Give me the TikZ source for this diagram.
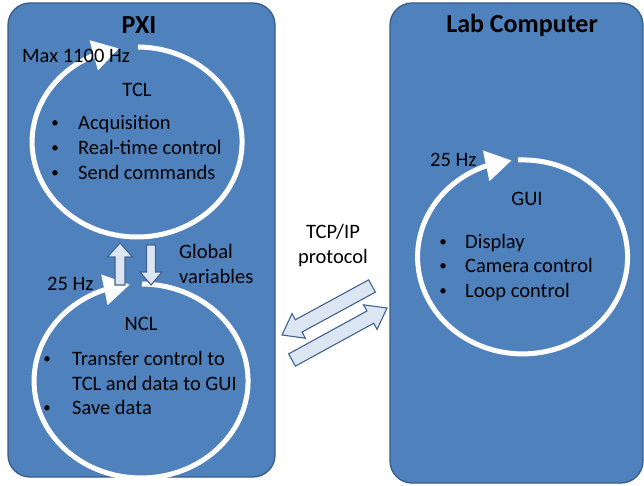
\documentclass[tikz,border=0pt]{standalone}
\usepackage{fontspec}
\setmainfont{Carlito}
\usetikzlibrary{arrows.meta,calc,bending}
\definecolor{boxblue}{HTML}{4F81BD}
\definecolor{boxedge}{HTML}{385D8A}
\definecolor{arrfill}{HTML}{DCE6F2}
\definecolor{arredge}{HTML}{41638F}
\newcommand\blockarr[6]{%
  \coordinate (#1t) at #2; \coordinate (#1p) at #3;
  \coordinate (#1h) at ($(#1p)!#6!(#1t)$);
  \draw[hollow] ($(#1t)!#4!90:(#1p)$) -- ($(#1h)!#4!90:(#1p)$) -- ($(#1h)!#5!90:(#1p)$) -- (#1p)
    -- ($(#1h)!#5!-90:(#1p)$) -- ($(#1h)!#4!-90:(#1p)$) -- ($(#1t)!#4!-90:(#1p)$) -- cycle;}
\begin{document}
\begin{tikzpicture}[x=1pt,y=-1pt,
  panel/.style={fill=boxblue,draw=boxedge,line width=1.3pt,rounded corners=22pt},
  ring/.style={draw=white,line width=5pt,-{Triangle[length=26pt,width=30pt,flex]}},
  txt/.style={font=\fontsize{20.5}{24}\selectfont,anchor=base west,inner sep=0pt},
  ctxt/.style={txt,anchor=base},
  bul/.style={font=\fontsize{15}{18}\selectfont,anchor=base,inner sep=0pt},
  title/.style={font=\fontsize{26}{30}\selectfont\bfseries,anchor=base,inner sep=0pt},
  hollow/.style={fill=arrfill,draw=arredge,line width=1.1pt,line join=miter}]
\useasboundingbox (0,0) rectangle (644,486);
\fill[white] (0,0) rectangle (644,486);
% panels
\draw[panel] (8,3) rectangle (275,477);
\draw[panel] (390,3) rectangle (643,483);
\node[title] (pxi) at (139,34) {PXI};
\node[title] (lab) at (522,33) {Lab Computer};
% TCL loop
\coordinate (tclc) at (137,142);
\draw[ring] (138,47) arc[start angle=-89.5,end angle=260,x radius=105,y radius=95];
\node[txt] (max) at (22,63) {Max 1100 Hz};
\node[ctxt] (tcl) at (137,97) {TCL};
\node[bul] (b1) at (55,128) {\textbullet};
\node[txt] (t1) at (78,130) {Acquisition};
\node[bul] (b2) at (55,153) {\textbullet};
\node[txt] (t2) at (78,155) {Real-time control};
\node[bul] (b3) at (55,178) {\textbullet};
\node[txt] (t3) at (78,180) {Send commands};
% NCL loop
\coordinate (nclc) at (141,381);
\draw[ring] (142,284) arc[start angle=-89.5,end angle=264,x radius=107,y radius=97];
\node[txt] (hz1) at (47,290) {25 Hz};
\node[ctxt] (ncl) at (141,330) {NCL};
\node[bul] (b4) at (47,363) {\textbullet};
\node[txt] (t4) at (72,365) {Transfer control to};
\node[txt] (t5) at (72,390) {TCL and data to GUI};
\node[bul] (b5) at (47,412) {\textbullet};
\node[txt] (t6) at (72,414) {Save data};
% global variables
\blockarr{up}{(120,285)}{(120,243)}{5pt}{12.5pt}{14pt}
\blockarr{dn}{(151,245)}{(151,285)}{4.5pt}{11pt}{13pt}
\node[txt] (g1) at (179,258) {Global};
\node[txt] (g2) at (179,283) {variables};
% TCP/IP
\node[ctxt] (tcp1) at (333,238) {TCP/IP};
\node[ctxt] (tcp2) at (333,263) {protocol};
\blockarr{da}{(372,286)}{(282,335)}{7pt}{14pt}{19pt}
\blockarr{ua}{(292,360)}{(387,308)}{7pt}{14pt}{19pt}
% GUI loop
\coordinate (guic) at (522,257);
\draw[ring] (518,160) arc[start angle=-92.5,end angle=264,x radius=105,y radius=97];
\node[txt] (hz2) at (430,167) {25 Hz};
\node[ctxt] (gui) at (527,205) {GUI};
\node[bul] (b6) at (443,246) {\textbullet};
\node[txt] (t7) at (465,248) {Display};
\node[bul] (b7) at (443,270) {\textbullet};
\node[txt] (t8) at (465,272) {Camera control};
\node[bul] (b8) at (443,295) {\textbullet};
\node[txt] (t9) at (465,297) {Loop control};
\end{tikzpicture}
\end{document}
